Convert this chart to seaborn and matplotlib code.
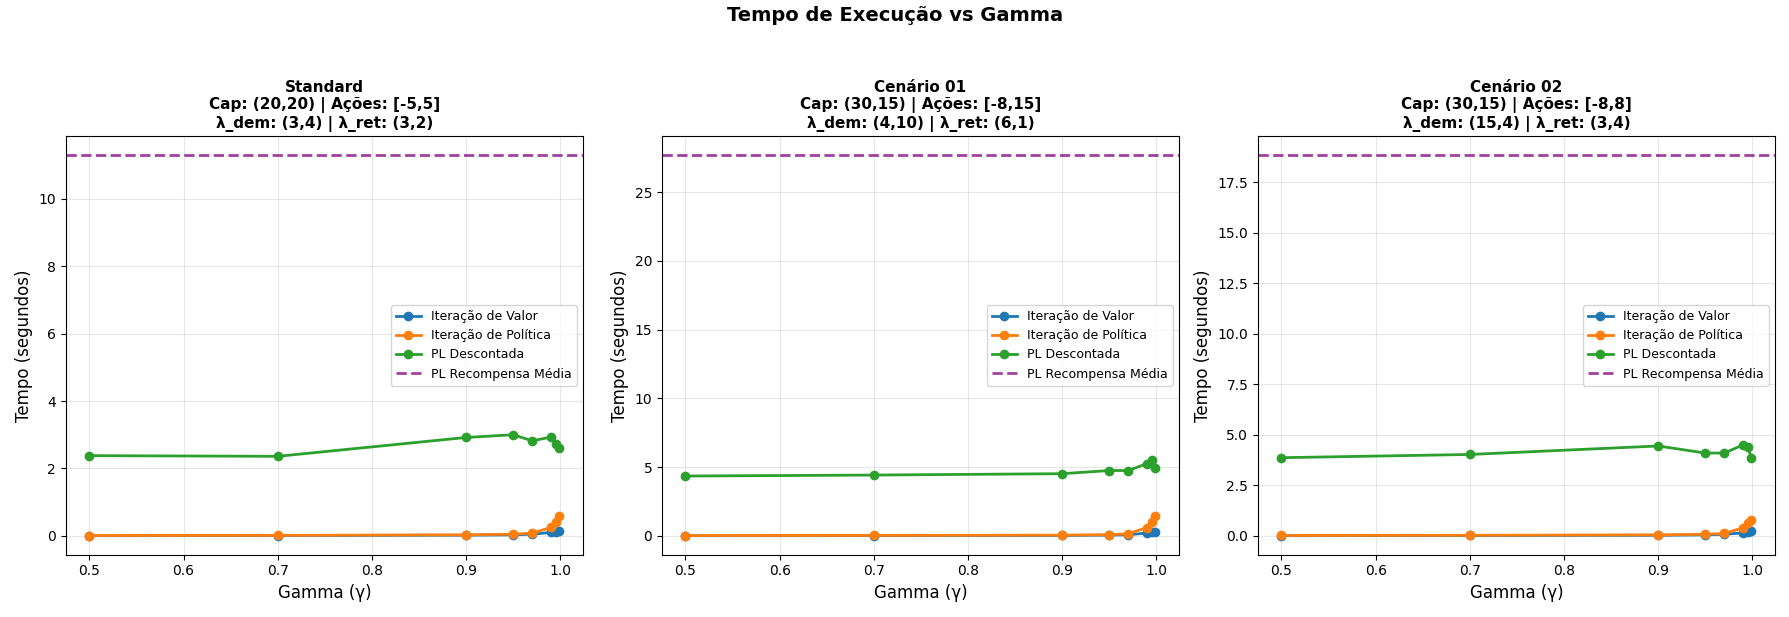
import numpy as np
import pandas as pd
import matplotlib
matplotlib.use("Agg")
import matplotlib.pyplot as plt
import seaborn as sns

gammas = [0.5, 0.7, 0.9, 0.95, 0.97, 0.99, 0.995, 0.999]

titles = [
    "Standard\nCap: (20,20) | Ações: [-5,5]\nλ_dem: (3,4) | λ_ret: (3,2)",
    "Cenário 01\nCap: (30,15) | Ações: [-8,15]\nλ_dem: (4,10) | λ_ret: (6,1)",
    "Cenário 02\nCap: (30,15) | Ações: [-8,8]\nλ_dem: (15,4) | λ_ret: (3,4)",
]

vi_times = [
    [0.005, 0.01, 0.02, 0.03, 0.05, 0.10, 0.12, 0.13],
    [0.01, 0.015, 0.03, 0.05, 0.08, 0.20, 0.25, 0.30],
    [0.01, 0.02, 0.03, 0.05, 0.08, 0.15, 0.20, 0.22],
]
pi_times = [
    [0.01, 0.015, 0.03, 0.05, 0.08, 0.25, 0.40, 0.58],
    [0.02, 0.03, 0.05, 0.08, 0.15, 0.60, 1.00, 1.45],
    [0.02, 0.03, 0.05, 0.08, 0.12, 0.40, 0.65, 0.78],
]
lp_disc_times = [
    [2.38, 2.36, 2.92, 3.00, 2.82, 2.93, 2.72, 2.60],
    [4.35, 4.42, 4.52, 4.75, 4.75, 5.25, 5.50, 4.90],
    [3.87, 4.03, 4.45, 4.10, 4.10, 4.50, 4.40, 3.85],
]
lp_avg_times = [11.3, 27.7, 18.85]

fig, axes = plt.subplots(1, 3, figsize=(17.9, 6.17), dpi=100)

for i, ax in enumerate(axes):
    sns.lineplot(x=gammas, y=vi_times[i], ax=ax, marker="o", markersize=7,
                 markeredgewidth=0, linewidth=2, color="#1f77b4", label="Iteração de Valor")
    sns.lineplot(x=gammas, y=pi_times[i], ax=ax, marker="o", markersize=7,
                 markeredgewidth=0, linewidth=2, color="#ff7f0e", label="Iteração de Política")
    sns.lineplot(x=gammas, y=lp_disc_times[i], ax=ax, marker="o", markersize=7,
                 markeredgewidth=0, linewidth=2, color="#2ca02c", label="PL Descontada")
    ax.axhline(lp_avg_times[i], color="purple", alpha=0.75, linestyle="--", linewidth=2,
               label="PL Recompensa Média")
    ax.set_title(titles[i], fontsize=11, fontweight="bold")
    ax.set_xlabel("Gamma (γ)", fontsize=12)
    ax.set_ylabel("Tempo (segundos)", fontsize=12)
    ax.grid(True, alpha=0.3)
    ax.legend(fontsize=9, loc="center right")

fig.suptitle("Tempo de Execução vs Gamma", fontsize=14, fontweight="bold", y=0.99)
fig.tight_layout(rect=[0, 0, 1, 0.95])
fig.savefig("out.png", dpi=100)
